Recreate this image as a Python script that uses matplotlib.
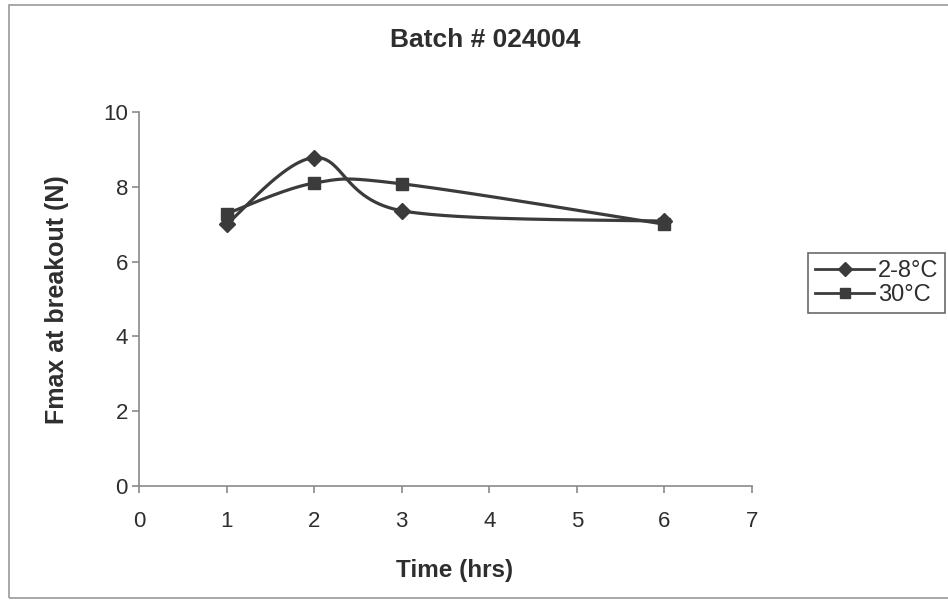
import numpy as np
import matplotlib
matplotlib.use("Agg")
import matplotlib.pyplot as plt
from matplotlib.patches import Rectangle
from matplotlib.lines import Line2D

# Data
time_hrs = [1, 2, 3, 6]
fmax_cold = [7.0, 8.78, 7.36, 7.08]   # 2-8°C
fmax_30c = [7.28, 8.1, 8.08, 7.0]     # 30°C
series_labels = ["2-8°C", "30°C"]
x_ticks = [0, 1, 2, 3, 4, 5, 6, 7]
y_ticks = [0, 2, 4, 6, 8, 10]

LINE = "#3b3b3b"
AXIS = "#8a8a8a"
TEXT = "#2e2e2e"

plt.rcParams["font.family"] = ["Liberation Sans", "DejaVu Sans"]


def smooth_curve(xs, ys, n=60):
    """Cubic Bezier spline through the points (spreadsheet-style smoothed line)."""
    x = np.asarray(xs, float)
    y = np.asarray(ys, float)
    px = np.concatenate([[x[0]], x, [x[-1]]])
    py = np.concatenate([[y[0]], y, [y[-1]]])
    out_x, out_y = [], []
    t = np.linspace(0, 1, n)
    for i in range(1, len(px) - 2):
        p0 = np.array([px[i], py[i]])
        p3 = np.array([px[i + 1], py[i + 1]])
        p1 = p0 + (np.array([px[i + 1], py[i + 1]]) - np.array([px[i - 1], py[i - 1]])) / 6
        p2 = p3 - (np.array([px[i + 2], py[i + 2]]) - np.array([px[i], py[i]])) / 6
        b = ((1 - t) ** 3)[:, None] * p0 + (3 * (1 - t) ** 2 * t)[:, None] * p1 \
            + (3 * (1 - t) * t ** 2)[:, None] * p2 + (t ** 3)[:, None] * p3
        out_x.extend(b[:, 0])
        out_y.extend(b[:, 1])
    return np.array(out_x), np.array(out_y)


W, H = 948, 602
fig = plt.figure(figsize=(W / 100, H / 100), dpi=100)
fig.patch.set_facecolor("white")

# outer chart frame (right edge runs off the canvas)
fig.add_artist(Rectangle((9 / W, 1 - 598 / H), (955 - 9) / W, (598 - 5) / H,
                         transform=fig.transFigure, fill=False,
                         edgecolor="#9a9a9a", linewidth=1.2))

ax_l, ax_r, ax_t, ax_b = 139, 752, 112, 486
ax = fig.add_axes([ax_l / W, 1 - ax_b / H, (ax_r - ax_l) / W, (ax_b - ax_t) / H])
ax.set_facecolor("white")

for ys, marker, ms in [(fmax_cold, "D", 8), (fmax_30c, "s", 8)]:
    sx, sy = smooth_curve(time_hrs, ys)
    ax.plot(sx, sy, color=LINE, linewidth=2.3, solid_capstyle="round", zorder=3)
    ax.plot(time_hrs, ys, linestyle="none", marker=marker, markersize=ms,
            color=LINE, markeredgecolor=LINE, zorder=4)

ax.set_xlim(0, 7)
ax.set_ylim(0, 10)
ax.set_xticks(x_ticks)
ax.set_yticks(y_ticks)
ax.set_xticklabels([str(v) for v in x_ticks])
ax.set_yticklabels([str(v) for v in y_ticks])

for side in ["top", "right"]:
    ax.spines[side].set_visible(False)
for side in ["left", "bottom"]:
    ax.spines[side].set_color(AXIS)
    ax.spines[side].set_linewidth(1.2)
ax.tick_params(axis="both", direction="out", length=5, width=1.2, color=AXIS,
               labelsize=16, labelcolor=TEXT)
ax.tick_params(axis="x", pad=13)
ax.tick_params(axis="y", pad=3)

fig.text(485 / W, 1 - 40 / H, "Batch # 024004", ha="center", va="center",
         fontsize=19, fontweight="bold", color=TEXT)
fig.text(455 / W, 1 - 570 / H, "Time (hrs)", ha="center", va="center",
         fontsize=17.5, fontweight="bold", color=TEXT)
fig.text(57 / W, 1 - 300 / H, "Fmax at breakout (N)", ha="center", va="center",
         rotation=90, fontsize=18, fontweight="bold", color=TEXT)

handles = [
    Line2D([], [], color=LINE, linewidth=2, marker="D", markersize=7),
    Line2D([], [], color=LINE, linewidth=2, marker="s", markersize=7),
]
leg = fig.legend(handles, series_labels, loc="center left",
                 bbox_to_anchor=(808 / W, 1 - 283 / H), frameon=True,
                 fancybox=False, fontsize=17, handlelength=2.5,
                 handletextpad=0.15, borderpad=0.3, labelspacing=0.1,
                 borderaxespad=0)
leg.get_frame().set_edgecolor("#444444")
leg.get_frame().set_linewidth(1.2)
for t in leg.get_texts():
    t.set_color(TEXT)

fig.savefig("out.png", dpi=100, facecolor="white")
